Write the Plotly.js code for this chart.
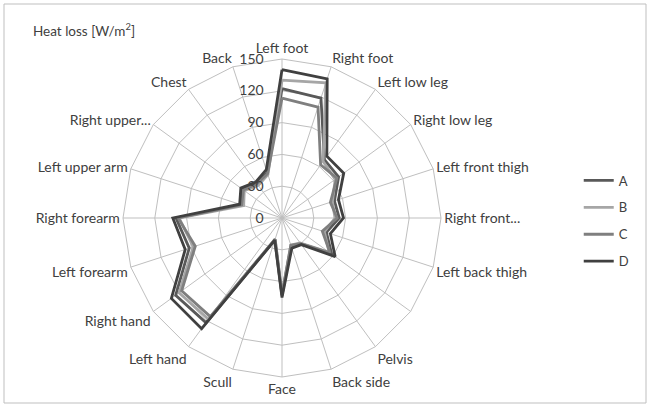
<!DOCTYPE html>
<html><head><meta charset="utf-8">
<script src="https://cdn.plot.ly/plotly-3.0.1.min.js"></script>
<style>html,body{margin:0;padding:0;background:#fff;}#chart{width:651px;height:407px;}</style>
</head><body><div id="chart"></div>
<script>
const categories = ["Left foot","Right foot","Left low leg","Right low leg","Left front thigh","Right front thigh","Left back thigh","Right back thigh","Pelvis","Back side","Face","Scull","Left hand","Right hand","Left forearm","Right forearm","Left upper arm","Right upper arm","Chest","Back"];
const tickLabels = ["Left foot","Right foot","Left low leg","Right low leg","Left front thigh","Right front...","Left back thigh","","Pelvis","Back side","Face","Scull","Left hand","Right hand","Left forearm","Right forearm","Left upper arm","Right upper...","Chest","Back"];
const seriesNames = ["A","B","C","D"];
const seriesA = [122,119,68,66,52,54,44,58,30,28,73,22,122,124,92,100,40,46,40,45];
const seriesB = [130,134,66,62,50,50,42,55,29,27,72,21,118,120,88,97,38,44,38,43];
const seriesC = [113,110,62,64,48,52,40,56,30,27,72,21,115,117,86,98,40,45,40,44];
const seriesD = [140,138,72,72,56,58,48,62,31,30,75,22,129,129,96,103,42,48,42,48];
const radialTicks = [0,30,60,90,120,150];
const colors = ["#595959","#a6a6a6","#7f7f7f","#404040"];
const allSeries = [seriesA,seriesB,seriesC,seriesD];
const pad = "\u2002\u2002\u2009";

const traces = allSeries.map((vals,i)=>({
  type:"scatterpolar", mode:"lines",
  r: vals.concat([vals[0]]),
  theta: categories.concat([categories[0]]),
  name: seriesNames[i], legendgroup: seriesNames[i],
  line:{color:colors[i], width:2.8},
  hoverinfo:"skip"
}));

const layout = {
  width:651, height:407,
  margin:{l:0,r:0,t:0,b:0},
  paper_bgcolor:"#fff",
  font:{family:"Lato, 'Open Sans', sans-serif", size:14, color:"#404040"},
  showlegend:true,
  legend:{x:0.889, y:1-221/407, xanchor:"left", yanchor:"middle", font:{size:13,color:"#404040"}, tracegroupgap:7, itemwidth:30, bgcolor:"rgba(0,0,0,0)"},
  annotations:[{text:"Heat loss [W/m<sup>2</sup>]", xref:"paper", yref:"paper", x:31/651, y:1-30/407, xanchor:"left", yanchor:"middle", showarrow:false, font:{size:13.5,color:"#404040"}}],
  shapes:[{type:"rect", xref:"paper", yref:"paper", x0:4/651, x1:646/651, y0:4/407, y1:403/407, line:{color:"#bfbfbf", width:1}}],
  polar:{
    domain:{x:[(282-159)/651,(282+159)/651], y:[(189-159)/407,(189+159)/407]},
    gridshape:"linear",
    bgcolor:"#fff",
    radialaxis:{range:[0,150], tickmode:"array", tickvals:radialTicks, ticktext:radialTicks.map(v=>String(v)+pad), angle:90, tickangle:90, side:"counterclockwise", showline:false, ticks:"", gridcolor:"#bfbfbf", gridwidth:1, tickfont:{size:14,color:"#404040"}},
    angularaxis:{type:"category", categoryarray:categories, tickmode:"array", tickvals:categories, ticktext:tickLabels, rotation:90, direction:"clockwise", showline:true, linecolor:"#bfbfbf", linewidth:1, gridcolor:"#bfbfbf", gridwidth:1, ticks:"", tickfont:{size:14,color:"#404040"}}
  }
};
Plotly.newPlot("chart", traces, layout, {staticPlot:true});
</script></body></html>
